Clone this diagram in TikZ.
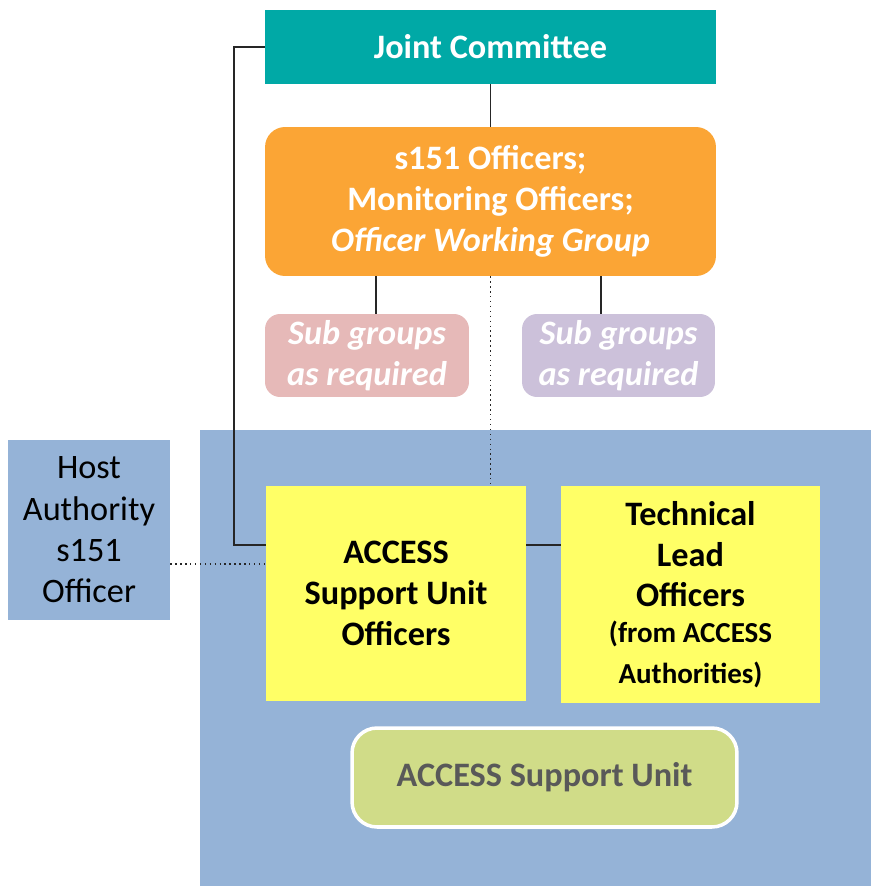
\documentclass[tikz,border=0pt]{standalone}
\usepackage{fontspec}
\setmainfont{Carlito}
\usetikzlibrary{positioning}
\definecolor{jcteal}{HTML}{00A9A6}
\definecolor{owgorange}{HTML}{FBA535}
\definecolor{subpink}{HTML}{E6B9B8}
\definecolor{subpurple}{HTML}{CCC1DA}
\definecolor{unitblue}{HTML}{95B3D7}
\definecolor{offyellow}{HTML}{FFFF66}
\definecolor{unitgreen}{HTML}{D0DC88}
\definecolor{unitgrey}{HTML}{595959}
\newcommand{\smalltxt}{\fontsize{16.5}{19.8}\selectfont}

\begin{document}
\begin{tikzpicture}[x=0.02cm, y=-0.02cm,
  box/.style = {inner sep=0pt, align=center, font=\bfseries\fontsize{19.5}{23.3}\selectfont},
  subgrp/.style = {box, text=white, rounded corners=0.3cm, minimum width=4cm, minimum height=1.66cm, font=\bfseries\itshape\fontsize{19.5}{23.3}\selectfont},
  officer/.style = {box, fill=offyellow, minimum width=5.2cm, minimum height=4.3cm},
  link/.style = {line width=0.8pt, black!85}]
\useasboundingbox (0,0) rectangle (871,886);
\fill[unitblue] (200,430) rectangle (871,886);

\node[box, fill=jcteal, text=white, minimum width=9.02cm, minimum height=1.48cm] (jc) at (490.5,47) {Joint Committee};
\node[box, fill=owgorange, text=white, rounded corners=0.4cm, minimum width=9.02cm, minimum height=2.98cm] (owg) at (490.5,201.5)
  {s151 Officers;\\ Monitoring Officers;\\ \textit{Officer Working Group}};
\node[subgrp, fill=subpink, minimum width=4.08cm] (sg1) at (367,355.5) {Sub groups\\ as required};
\node[subgrp, fill=subpurple, minimum width=3.86cm] (sg2) at (618.5,355.5) {Sub groups\\ as required};

\node[box, font=\fontsize{19.5}{23.5}\selectfont, fill=unitblue, minimum width=3.24cm, minimum height=3.6cm] (host) at (89,530)
  {Host\\ Authority\\ s151\\ Officer};
\node[officer] (asuo) at (396,593.5) {ACCESS\\ Support Unit\\ Officers};
\node[officer, minimum width=5.18cm, minimum height=4.34cm] (tlo) at (690.5,594.5)
  {Technical\\ Lead\\ Officers\\[-3pt] \smalltxt (from ACCESS\\ \smalltxt Authorities)};
\node[box, fill=unitgreen, text=unitgrey, draw=white, line width=2pt, rounded corners=0.5cm, minimum width=7.7cm, minimum height=1.98cm] (asu) at (544.5,777.5)
  {ACCESS Support Unit};

% connectors
\coordinate (bend) at (234,545);
\coordinate (hd) at (173,564);
\draw[link] (jc.west) -| (bend) -- (bend -| asuo.west);
\draw[link] (jc.south) -- (owg.north);
\draw[link] ([xshift=0.18cm]sg1.north) -- ([xshift=0.18cm]sg1.north |- owg.south);
\draw[link] ([xshift=-0.35cm]sg2.north) -- ([xshift=-0.35cm]sg2.north |- owg.south);
\draw[link, dotted] (owg.south) -- (owg.south |- asuo.north);
\draw[link] (asuo.east |- bend) -- (tlo.west |- bend);
\draw[link, dotted] (host.east |- hd) -- (asuo.west |- hd);
\end{tikzpicture}
\end{document}
